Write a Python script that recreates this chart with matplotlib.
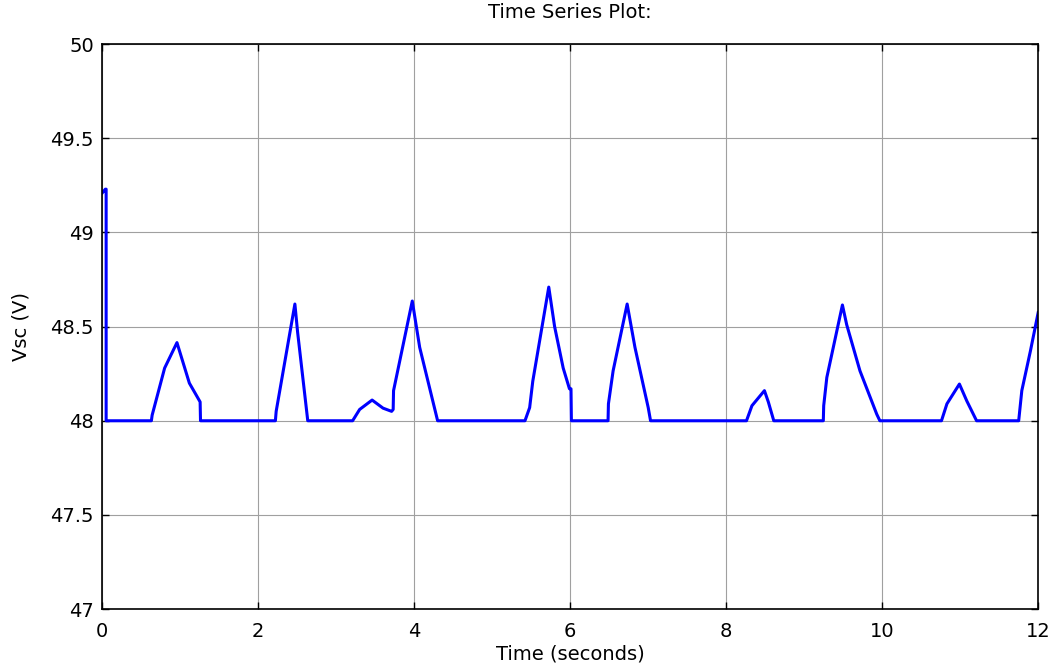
import matplotlib
matplotlib.use('Agg')
import matplotlib.pyplot as plt

# waveform (time s, Vsc V)
t = [0.0, 0.04, 0.05, 0.05, 0.63, 0.64, 0.80, 0.958, 1.117, 1.20, 1.255, 1.26,
     2.22, 2.23, 2.47, 2.505, 2.635,
     3.21, 3.30, 3.46, 3.60, 3.71, 3.73, 3.735, 3.975, 4.07, 4.30,
     5.42, 5.48, 5.52, 5.725, 5.80, 5.91, 5.99, 6.01, 6.015,
     6.485, 6.49, 6.55, 6.73, 6.83, 7.00, 7.03,
     8.26, 8.33, 8.49, 8.54, 8.61,
     9.245, 9.25, 9.29, 9.49, 9.545, 9.715, 9.93, 9.97,
     10.76, 10.83, 10.99, 11.085, 11.21,
     11.75, 11.79, 11.90, 12.0]
vsc = [49.21, 49.23, 49.23, 48.0, 48.0, 48.03, 48.28, 48.415, 48.20, 48.14, 48.10, 48.0,
       48.0, 48.05, 48.62, 48.47, 48.0,
       48.0, 48.06, 48.11, 48.067, 48.05, 48.06, 48.16, 48.636, 48.39, 48.0,
       48.0, 48.07, 48.21, 48.71, 48.50, 48.28, 48.17, 48.17, 48.0,
       48.0, 48.09, 48.265, 48.62, 48.39, 48.07, 48.0,
       48.0, 48.08, 48.16, 48.10, 48.0,
       48.0, 48.08, 48.23, 48.615, 48.51, 48.265, 48.035, 48.0,
       48.0, 48.09, 48.195, 48.105, 48.0,
       48.0, 48.16, 48.37, 48.575]

xticks = [0, 2, 4, 6, 8, 10, 12]
yticks = [47, 47.5, 48, 48.5, 49, 49.5, 50]
ytick_labels = ['47', '47.5', '48', '48.5', '49', '49.5', '50']

plt.rcParams['font.family'] = ['DejaVu Sans']

fig = plt.figure(figsize=(10.54, 6.70), dpi=100)
ax = fig.add_axes([0.097, 0.091, 0.888, 0.843])

ax.plot(t, vsc, color='#0000ff', linewidth=2.2)

ax.set_xlim(0, 12)
ax.set_ylim(47, 50)
ax.set_xticks(xticks)
ax.set_xticklabels([str(v) for v in xticks])
ax.set_yticks(yticks)
ax.set_yticklabels(ytick_labels)

ax.grid(True, color='#a0a0a0', linewidth=0.8, linestyle='-')
ax.tick_params(direction='in', top=True, right=True, length=5, width=1,
               labelsize=14)
ax.tick_params(axis='x', pad=9)
ax.tick_params(axis='y', pad=6)
for s in ax.spines.values():
    s.set_linewidth(1.2)

ax.set_xlabel('Time (seconds)', fontsize=14, labelpad=3)
ax.set_ylabel('Vsc (V)', fontsize=14, labelpad=14)
ax.set_title('Time Series Plot:', fontsize=14, pad=19)

fig.savefig('out.png', dpi=100)
